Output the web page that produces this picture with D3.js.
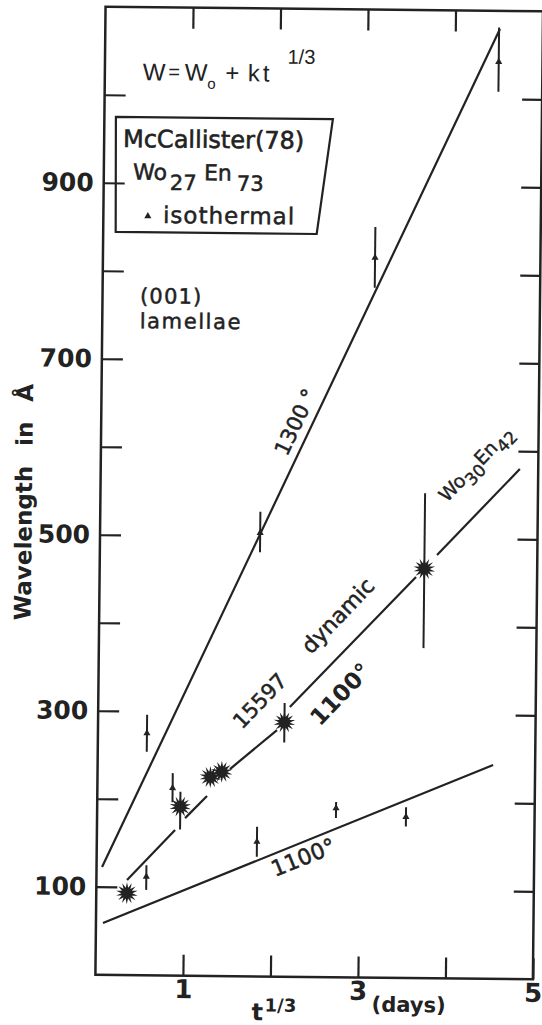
<!DOCTYPE html>
<html>
<head>
<meta charset="utf-8">
<script src="https://cdn.jsdelivr.net/npm/d3@7"></script>
<style>
  body { margin: 0; background: #fff; }
  svg { display: block; font-family: "DejaVu Sans", sans-serif; }
</style>
</head>
<body>
<svg id="chart" width="542" height="1025"></svg>
<script>
// ---- data (t^1/3 in days^1/3, wavelength in Angstrom) ----
var yTicks = [100, 200, 300, 400, 500, 600, 700, 800, 900, 1000];
var yTickLabels = [100, 300, 500, 700, 900];
var xTicks = [1, 2, 3, 4, 5];
var xTickLabels = [1, 3, 5];

// isothermal 1300 deg (triangles + error bars)
var iso1300T  = [0.56, 1.83, 3.11, 4.50];
var iso1300W  = [275, 504, 818, 1042];
var iso1300Lo = [254, 482, 784, 1008];
var iso1300Hi = [296, 528, 853, 1081];

// isothermal 1100 deg
var iso1100T  = [0.57, 0.86, 1.83, 2.73, 3.53];
var iso1100W  = [112, 213, 153, 192, 183];
var iso1100Lo = [97, 197, 136, 181, 172];
var iso1100Hi = [125, 230, 170, 199, 194];

// dynamic 15597, 1100 deg (stars)
var dynT  = [0.35, 0.95, 1.29, 1.42, 2.13, 3.71];
var dynW  = [93, 192, 226, 232, 289, 465];
var dynLo = [null, 166, null, null, 266, 375];
var dynHi = [null, 209, null, null, 311, 551];

// fitted lines W = Wo + k t^1/3
var line1300 = [[0.063, 122.5], [4.51, 1079.4]];
var line1100 = [[0.08, 58.9], [4.52, 243]];
var lineDynamic = [
  [[0.35, 108], [0.893, 165.3]],
  [[1.006, 179], [1.254, 204.4]],
  [[1.513, 235.3], [2.046, 280.2]],
  [[2.19, 306.5], [3.616, 455.7]],
  [[3.854, 481], [4.79, 579.7]]
];

var ink = "#222";
var svg = d3.select("#chart");

svg.append("rect").attr("width", 542).attr("height", 1025).attr("fill", "#fff");

// the scanned figure is slightly tilted
var g = svg.append("g").attr("transform", "rotate(0.6,316,490)");

var x = d3.scaleLinear().domain([0, 5]).range([100.5, 538]);
var y = d3.scaleLinear().domain([0, 1100]).range([977, 9]);

// frame
g.append("rect")
  .attr("x", x(0)).attr("y", y(1100))
  .attr("width", x(5) - x(0)).attr("height", y(0) - y(1100))
  .attr("fill", "none").attr("stroke", ink).attr("stroke-width", 2.5);

function styleAxis(sel, size) {
  sel.select(".domain").remove();
  sel.attr("color", ink)
    .attr("font-family", "DejaVu Sans, sans-serif")
    .attr("font-size", size)
    .attr("font-weight", "bold");
  sel.selectAll(".tick line").attr("stroke-width", 2.2);
}

g.append("g")
  .attr("transform", "translate(" + x(0) + ",0)")
  .call(d3.axisLeft(y).tickValues(yTicks).tickSize(-21).tickPadding(10)
    .tickFormat(function(d) { return yTickLabels.indexOf(d) >= 0 ? d : ""; }))
  .call(styleAxis, 25);

g.append("g")
  .attr("transform", "translate(" + x(5) + ",0)")
  .call(d3.axisRight(y).tickValues(yTicks).tickSize(-20).tickFormat(""))
  .call(styleAxis, 25);

g.append("g")
  .attr("transform", "translate(0," + y(0) + ")")
  .call(d3.axisBottom(x).tickValues(xTicks).tickSize(-21).tickPadding(4)
    .tickFormat(function(d) { return xTickLabels.indexOf(d) >= 0 ? d : ""; }))
  .call(styleAxis, 26);

g.append("g")
  .attr("transform", "translate(0," + y(1100) + ")")
  .call(d3.axisTop(x).tickValues([1, 2, 3, 4]).tickSize(-21).tickFormat(""))
  .call(styleAxis, 26);

// axis titles
g.append("text")
  .attr("transform", "translate(32,505) rotate(-90)")
  .attr("text-anchor", "middle")
  .attr("font-size", 23).attr("font-weight", "bold")
  .attr("word-spacing", 12).attr("fill", ink)
  .text("Wavelength in Å");

var xt = g.append("text").attr("fill", ink).attr("font-weight", "bold");
xt.append("tspan").attr("x", 257).attr("y", 1021).attr("font-size", 24).text("t");
xt.append("tspan").attr("x", 270).attr("y", 1012).attr("font-size", 18).text("1/3");
xt.append("tspan").attr("x", 377).attr("y", 1011).attr("font-size", 21).text("(days)");

// lines
var line = d3.line().x(function(d) { return x(d[0]); }).y(function(d) { return y(d[1]); });

[line1300, line1100].concat(lineDynamic).forEach(function(seg) {
  g.append("path").attr("d", line(seg))
    .attr("fill", "none").attr("stroke", ink).attr("stroke-width", 2.2);
});

// isothermal points
function isoSeries(T, W, Lo, Hi) {
  var pts = T.map(function(t, i) { return { t: t, w: W[i], lo: Lo[i], hi: Hi[i] }; });
  g.selectAll(null).data(pts).enter().append("line")
    .attr("x1", function(d) { return x(d.t); }).attr("x2", function(d) { return x(d.t); })
    .attr("y1", function(d) { return y(d.lo); }).attr("y2", function(d) { return y(d.hi); })
    .attr("stroke", ink).attr("stroke-width", 2);
  g.selectAll(null).data(pts).enter().append("path")
    .attr("d", d3.symbol(d3.symbolTriangle, 22))
    .attr("transform", function(d) { return "translate(" + x(d.t) + "," + y(d.w) + ")"; })
    .attr("fill", ink);
}
isoSeries(iso1300T, iso1300W, iso1300Lo, iso1300Hi);
isoSeries(iso1100T, iso1100W, iso1100Lo, iso1100Hi);

// dynamic points: star bursts
function starPath(ro, ri, n) {
  var p = [];
  for (var i = 0; i < 2 * n; i++) {
    var r = i % 2 ? ri : ro, a = Math.PI * i / n;
    p.push([r * Math.sin(a), -r * Math.cos(a)]);
  }
  return "M" + p.join("L") + "Z";
}
var dyn = dynT.map(function(t, i) { return { t: t, w: dynW[i], lo: dynLo[i], hi: dynHi[i] }; });
g.selectAll(null).data(dyn.filter(function(d) { return d.lo != null; })).enter().append("line")
  .attr("x1", function(d) { return x(d.t); }).attr("x2", function(d) { return x(d.t); })
  .attr("y1", function(d) { return y(d.lo); }).attr("y2", function(d) { return y(d.hi); })
  .attr("stroke", ink).attr("stroke-width", 2);
g.selectAll(null).data(dyn).enter().append("path")
  .attr("d", starPath(11, 5.5, 14))
  .attr("transform", function(d) { return "translate(" + x(d.t) + "," + y(d.w) + ")"; })
  .attr("fill", ink);

// labels along the lines
function angleOf(seg) {
  return Math.atan2(y(seg[1][1]) - y(seg[0][1]), x(seg[1][0]) - x(seg[0][0])) * 180 / Math.PI;
}
var dynFull = [lineDynamic[0][0], lineDynamic[lineDynamic.length - 1][1]];
var lineLabels = [
  { text: "1300 °", t: 2.127, w: 590.6, seg: line1300, size: 21, bold: false },
  { text: "15597",  t: 1.647, w: 279.8, seg: dynFull, size: 21, bold: false },
  { text: "dynamic", t: 2.425, w: 365.9, seg: dynFull, size: 22, bold: false },
  { text: "1100°",  t: 2.537, w: 284.1, seg: dynFull, size: 23, bold: true },
  { text: "1100°",  t: 2.041, w: 113.2, seg: line1100, size: 22, bold: false }
];
lineLabels.forEach(function(d) {
  g.append("text")
    .attr("transform", "translate(" + x(d.t) + "," + y(d.w) + ") rotate(" + angleOf(d.seg) + ")")
    .attr("font-size", d.size)
    .attr("font-weight", d.bold ? "bold" : "normal")
    .attr("fill", ink).attr("stroke", ink).attr("stroke-width", d.bold ? 0 : 0.5)
    .text(d.text);
});

var wo = g.append("text")
  .attr("transform", "translate(" + x(3.961) + "," + y(540.2) + ") rotate(" + angleOf(dynFull) + ")")
  .attr("font-size", 19).attr("fill", ink).attr("stroke", ink).attr("stroke-width", 0.4);
wo.append("tspan").text("Wo");
wo.append("tspan").attr("dy", 7).attr("font-size", 17).text("30");
wo.append("tspan").attr("dy", -7).text("En");
wo.append("tspan").attr("dy", 7).attr("font-size", 17).text("42");

// formula
var f = g.append("text").attr("font-family", "Liberation Sans, sans-serif")
  .attr("font-size", 24).attr("fill", ink);
f.append("tspan").attr("x", 138.5).attr("y", 82).text("W");
f.append("tspan").attr("x", 164).attr("y", 80).attr("font-size", 20).text("=");
f.append("tspan").attr("x", 180.5).attr("y", 82).text("W");
f.append("tspan").attr("x", 203).attr("y", 90).attr("font-size", 15).text("o");
f.append("tspan").attr("x", 221).attr("y", 82).text("+");
f.append("tspan").attr("x", 243.5).attr("y", 82).attr("letter-spacing", 3).text("kt");
f.append("tspan").attr("x", 283).attr("y", 64).attr("font-size", 20).text("1/3");

// legend box
g.append("path")
  .attr("d", "M112,119L329,119L314,234L113,234Z")
  .attr("fill", "none").attr("stroke", ink).attr("stroke-width", 2.2);

g.append("text").attr("x", 119.4).attr("y", 149)
  .attr("font-size", 24).attr("fill", ink).attr("stroke", ink).attr("stroke-width", 0.6)
  .text("McCallister(78)");

var comp = g.append("text").attr("font-size", 22).attr("fill", ink)
  .attr("stroke", ink).attr("stroke-width", 0.5);
comp.append("tspan").attr("x", 129.7).attr("y", 181.5).text("Wo");
comp.append("tspan").attr("x", 166.7).attr("y", 191.5).attr("font-size", 21).text("27");
comp.append("tspan").attr("x", 200.7).attr("y", 181.5).text("En");
comp.append("tspan").attr("x", 233.7).attr("y", 191.5).attr("font-size", 21).text("73");

g.append("path")
  .attr("d", d3.symbol(d3.symbolTriangle, 22))
  .attr("transform", "translate(145,218)")
  .attr("fill", ink);
g.append("text").attr("x", 160.2).attr("y", 224.6)
  .attr("font-size", 23).attr("letter-spacing", 1).attr("fill", ink)
  .attr("stroke", ink).attr("stroke-width", 0.5)
  .text("isothermal");

g.append("text").attr("x", 138).attr("y", 305)
  .attr("font-size", 21).attr("letter-spacing", 1.2).attr("fill", ink)
  .attr("stroke", ink).attr("stroke-width", 0.5)
  .text("(001)");
g.append("text").attr("x", 138).attr("y", 330)
  .attr("font-size", 21).attr("letter-spacing", 1.6).attr("fill", ink)
  .attr("stroke", ink).attr("stroke-width", 0.5)
  .text("lamellae");
</script>
</body>
</html>
